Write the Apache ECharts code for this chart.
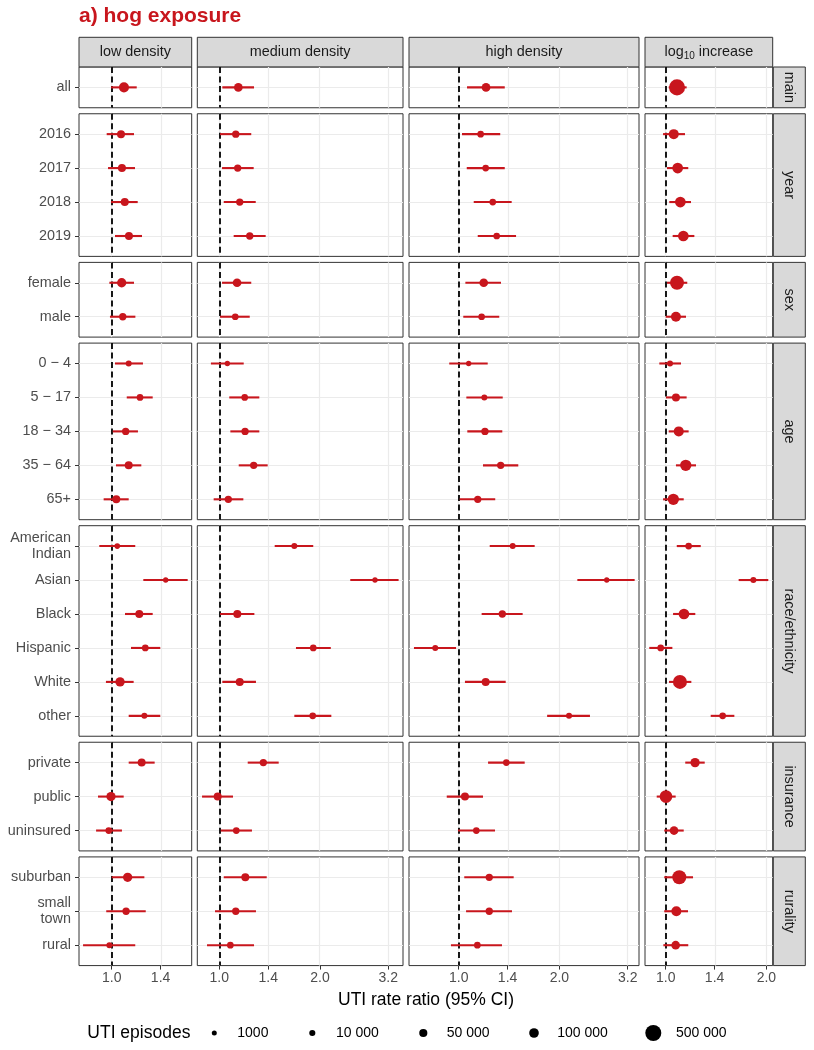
<!DOCTYPE html>
<html><head><meta charset="utf-8">
<script src="https://cdn.jsdelivr.net/npm/echarts@6/dist/echarts.min.js"></script>
<style>html,body{margin:0;padding:0;background:#fff}#c{width:814px;height:1050px}</style>
</head><body><div id="c"></div>
<script>
// ---------- data ----------
const columns = ['low density', 'medium density', 'high density', 'log10 increase'];
const groups = ['main', 'year', 'sex', 'age', 'race/ethnicity', 'insurance', 'rurality'];
const groupCats = [
  ['all'],
  ['2016', '2017', '2018', '2019'],
  ['female', 'male'],
  ['0 \u2212 4', '5 \u2212 17', '18 \u2212 34', '35 \u2212 64', '65+'],
  ['American\nIndian', 'Asian', 'Black', 'Hispanic', 'White', 'other'],
  ['private', 'public', 'uninsured'],
  ['suburban', 'small\ntown', 'rural']
];
// rate ratios (rows in the order of groupCats, flattened)
const lowRR = [1.088, 1.066,1.073,1.094,1.126, 1.071,1.079, 1.124,1.215,1.101,1.124,1.032, 1.039,1.45,1.209,1.26,1.059,1.252, 1.229,0.995,0.98, 1.116,1.104,0.984];
const lowLo = [0.995, 0.966,0.975,0.995,1.023, 0.984,0.988, 1.023,1.109,1.007,1.03,0.946, 0.918,1.243,1.096,1.142,0.961,1.124, 1.124,0.91,0.898, 1.0,0.963,0.821];
const lowHi = [1.188, 1.166,1.174,1.196,1.232, 1.166,1.177, 1.24,1.326,1.198,1.226,1.124, 1.176,1.687,1.326,1.397,1.163,1.397, 1.344,1.086,1.073, 1.252,1.264,1.176];
const lowN  = [114000, 46000,46000,46000,46000, 87000,30000, 8500,18000,30000,46000,46000, 5000,2500,46000,18000,87000,8500, 46000,87000,18000, 87000,30000,8500];

const medRR = [1.14, 1.12,1.135,1.151,1.233, 1.13,1.116, 1.057,1.191,1.194,1.267,1.064, 1.676,2.92,1.132,1.909,1.151,1.902, 1.354,0.989,1.124, 1.196,1.12,1.079];
const medLo = [1.021, 1.005,1.019,1.031,1.104, 1.019,1.005, 0.944,1.071,1.079,1.143,0.962, 1.464,2.463,1.005,1.695,1.021,1.676, 1.216,0.888,1.01, 1.031,0.971,0.919];
const medHi = [1.27, 1.246,1.267,1.285,1.376, 1.246,1.233, 1.183,1.317,1.317,1.395,1.18, 1.909,3.435,1.273,2.154,1.287,2.162, 1.505,1.099,1.252, 1.386,1.287,1.27];
const medN  = [66000, 30000,30000,30000,30000, 66000,18000, 2500,18000,30000,30000,30000, 8500,2500,46000,18000,46000,18000, 30000,46000,18000, 46000,30000,18000];

const highRR = [1.207, 1.163,1.204,1.264,1.299, 1.188,1.171, 1.071,1.193,1.198,1.335,1.14, 1.45,2.77,1.35,0.851,1.204,2.137, 1.388,1.044,1.129, 1.234,1.234,1.137];
const highLo = [1.059, 1.023,1.057,1.109,1.14, 1.047,1.032, 0.937,1.054,1.061,1.182,1.007, 1.238,2.263,1.171,0.735,1.044,1.838, 1.224,0.921,0.995, 1.039,1.052,0.948];
const highHi = [1.373, 1.331,1.373,1.44,1.484, 1.338,1.322, 1.221,1.354,1.35,1.507,1.286, 1.687,3.357,1.553,0.982,1.382,2.468, 1.575,1.182,1.284, 1.46,1.443,1.347];
const highN  = [66000, 18000,18000,18000,18000, 66000,18000, 2500,8500,30000,30000,30000, 8500,2500,30000,8500,46000,8500, 18000,46000,18000, 30000,30000,18000];

const logRR = [1.081, 1.057,1.086,1.106,1.129, 1.081,1.073, 1.03,1.073,1.094,1.148,1.054, 1.171,1.828,1.134,0.966,1.103,1.48, 1.224,1.002,1.059, 1.098,1.076,1.071];
const logLo = [1.021, 0.982,1.009,1.025,1.049, 1.009,1.0, 0.957,1.002,1.021,1.073,0.982, 1.079,1.652,1.052,0.893,1.023,1.363, 1.144,0.94,0.99, 0.99,0.99,0.984];
const logHi = [1.155, 1.142,1.168,1.19,1.218, 1.16,1.15, 1.111,1.155,1.171,1.232,1.132, 1.273,2.026,1.226,1.047,1.193,1.604, 1.308,1.071,1.132, 1.207,1.166,1.168];
const logN  = [500000, 114000,145000,145000,145000, 340000,114000, 8500,46000,114000,175000,175000, 18000,8500,145000,18000,340000,18000, 87000,250000,66000, 340000,114000,66000];

const lowTicks = [1.0, 1.4];
const medTicks = [1.0, 1.4, 2.0, 3.2];
const highTicks = [1.0, 1.4, 2.0, 3.2];
const logTicks = [1.0, 1.4, 2.0];

const legendValues = [1000, 10000, 50000, 100000, 500000];
const legendLabels = ['1000', '10 000', '50 000', '100 000', '500 000'];

// ---------- layout / style ----------
const RED = '#C8161D';
const FONT = '"Liberation Sans", Arial, Helvetica, sans-serif';
const cols = [
  {rr: lowRR, lo: lowLo, hi: lowHi, n: lowN, ticks: lowTicks, lim: [0.7984, 1.7343]},
  {rr: medRR, lo: medLo, hi: medHi, n: medN, ticks: medTicks, lim: [0.8595, 3.5405]},
  {rr: highRR, lo: highLo, hi: highHi, n: highN, ticks: highTicks, lim: [0.7103, 3.459]},
  {rr: logRR, lo: logLo, hi: logHi, n: logN, ticks: logTicks, lim: [0.8672, 2.0884]}
];
const colLeft = [79, 197.3, 409, 645];
const colRight = [191.7, 403, 639, 772.7];
const U = 33.96, GAP = 6, TOP0 = 67;
const rowTop = [], rowH = [];
(function(){ let y = TOP0; groupCats.forEach(c => { const h = (c.length + 0.2) * U; rowTop.push(y); rowH.push(h); y += h + GAP; }); })();
const sizeOf = n => 4.5 + 0.0163 * Math.sqrt(n);

const grid = [], xAxis = [], yAxis = [], series = [];
let offset = 0;
groupCats.forEach((cats, r) => {
  const idx = cats.map((_, i) => i);
  const lastRow = r === groupCats.length - 1;
  cols.forEach((col, c) => {
    const gi = grid.length;
    grid.push({left: colLeft[c], top: rowTop[r], width: colRight[c] - colLeft[c], height: rowH[r],
      show: true, backgroundColor: '#fff', borderColor: '#333', borderWidth: 1, containLabel: false, outerBoundsMode: 'none'});
    const tl = col.ticks.map(Math.log);
    xAxis.push({gridIndex: gi, type: 'value', position: 'bottom', min: Math.log(col.lim[0]), max: Math.log(col.lim[1]),
      splitLine: {show: false}, axisLine: {show: false, onZero: false},
      axisTick: {show: lastRow, customValues: tl, length: 4, lineStyle: {color: '#333', width: 1}},
      axisLabel: {show: lastRow, customValues: tl, formatter: v => Math.exp(v).toFixed(1), color: '#4d4d4d',
        fontSize: 14, fontFamily: FONT, margin: 6}});
    yAxis.push({gridIndex: gi, type: 'value', position: 'left', inverse: true, min: -0.6, max: cats.length - 0.4,
      splitLine: {show: false}, axisLine: {show: false, onZero: false},
      axisTick: {show: c === 0, customValues: idx, length: 4, lineStyle: {color: '#333', width: 1}},
      axisLabel: {show: c === 0, customValues: idx, formatter: v => cats[Math.round(v)], color: '#4d4d4d',
        fontSize: 14.4, fontFamily: FONT, margin: 8, lineHeight: 15.5, align: 'right'}});
    const rows = idx.map(i => offset + i);
    series.push({type: 'custom', xAxisIndex: gi, yAxisIndex: gi, z: 2, silent: true,
      data: rows.map((k, i) => [Math.log(col.lo[k]), Math.log(col.hi[k]), i]),
      encode: {x: [0, 1], y: 2},
      renderItem: (p, api) => {
        const a = api.coord([api.value(0), api.value(2)]);
        const b = api.coord([api.value(1), api.value(2)]);
        return {type: 'line', shape: {x1: a[0], y1: a[1], x2: b[0], y2: b[1]}, style: {stroke: RED, lineWidth: 2.1}};
      },
      markLine: {silent: true, z: 1, symbol: 'none', label: {show: false}, animation: false,
        lineStyle: {color: '#EBEBEB', width: 1.2, type: 'solid'},
        emphasis: {disabled: true},
        data: tl.map(v => ({xAxis: v})).concat(idx.map(i => ({yAxis: i})))}
    });
    series.push({type: 'scatter', xAxisIndex: gi, yAxisIndex: gi, z: 3, silent: true,
      data: rows.map((k, i) => [Math.log(col.rr[k]), i, col.n[k]]),
      symbol: 'circle', symbolSize: v => sizeOf(v[2]),
      itemStyle: {color: RED, opacity: 1}, emphasis: {disabled: true},
      markLine: {silent: true, z: 1.5, symbol: 'none', label: {show: false}, animation: false,
        lineStyle: {color: '#000', width: 1.8, type: [6, 3.5]}, emphasis: {disabled: true},
        data: [{xAxis: 0}]}
    });
  });
  offset += cats.length;
});

// ---------- strips, titles, legend ----------
const graphic = [];
const txt = (x, y, text, size, fill, extra) => Object.assign({type: 'text', x, y, silent: true,
  style: Object.assign({text, fill, fontSize: size, fontFamily: FONT, align: 'center', verticalAlign: 'middle',
    textAlign: 'center', textVerticalAlign: 'middle'}, extra || {})});
graphic.push(Object.assign(txt(79, 16.5, 'a) hog exposure', 21, RED, {fontWeight: 'bold', align: 'left', textAlign: 'left'})));
cols.forEach((col, c) => {
  graphic.push({type: 'rect', silent: true, shape: {x: colLeft[c], y: 37.3, width: colRight[c] - colLeft[c], height: 29.6},
    style: {fill: '#D9D9D9', stroke: '#333', lineWidth: 1}});
  if (c === 3) {
    graphic.push({type: 'text', silent: true, x: (colLeft[c] + colRight[c]) / 2, y: 52,
      style: {text: '{t|log}{s|10}{t| increase}', align: 'center', verticalAlign: 'middle', textAlign: 'center', textVerticalAlign: 'middle',
        rich: {t: {fontSize: 14.4, fontFamily: FONT, fill: '#1a1a1a', lineHeight: 18, verticalAlign: 'middle'},
               s: {fontSize: 10, fontFamily: FONT, fill: '#1a1a1a', lineHeight: 12, verticalAlign: 'bottom'}}}});
  } else {
    graphic.push(txt((colLeft[c] + colRight[c]) / 2, 52, columns[c], 14.4, '#1a1a1a'));
  }
});
groups.forEach((g, r) => {
  graphic.push({type: 'rect', silent: true, shape: {x: 773.3, y: rowTop[r], width: 32, height: rowH[r]},
    style: {fill: '#D9D9D9', stroke: '#333', lineWidth: 1}});
  graphic.push(Object.assign(txt(789.3, rowTop[r] + rowH[r] / 2, g, 14.4, '#1a1a1a'), {rotation: -Math.PI / 2}));
});
graphic.push(txt(426, 1000, 'UTI rate ratio (95% CI)', 17.5, '#000'));
graphic.push(txt(87.3, 1033, 'UTI episodes', 17.5, '#000', {align: 'left', textAlign: 'left'}));
const legDotX = [214.3, 312.3, 423.3, 534, 653.3];
const legLabX = [237.3, 336, 446.7, 557.3, 676];
legendValues.forEach((v, i) => {
  graphic.push({type: 'circle', silent: true, shape: {cx: legDotX[i], cy: 1033, r: sizeOf(v) / 2}, style: {fill: '#000'}});
  graphic.push(txt(legLabX[i], 1033, legendLabels[i], 14, '#000', {align: 'left', textAlign: 'left'}));
});

const chart = echarts.init(document.getElementById('c'), null, {renderer: 'canvas'});
chart.setOption({animation: false, backgroundColor: '#fff', textStyle: {fontFamily: FONT},
  grid, xAxis, yAxis, series, graphic});
</script></body></html>
